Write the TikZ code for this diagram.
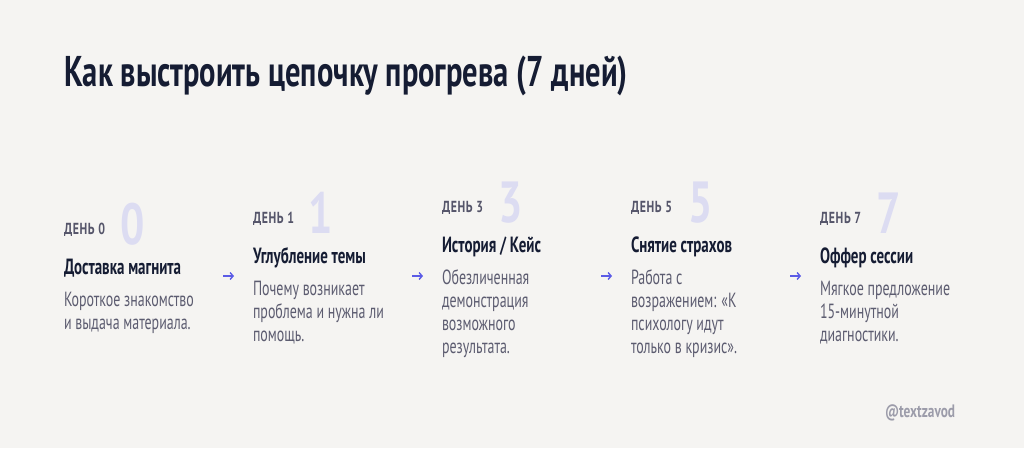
\documentclass[tikz,border=0pt]{standalone}
\usepackage{fontspec}
\setmainfont{PT Sans}
\newfontfamily\titlefont{PT Sans}[FakeStretch=0.71]
\newfontfamily\condfont{PT Sans}[FakeStretch=0.74]
\newfontfamily\headfont{PT Sans}[FakeStretch=0.68]
\newfontfamily\lblfont{PT Sans}[FakeStretch=0.74, LetterSpace=4]
\usetikzlibrary{arrows.meta}
\definecolor{bg}{HTML}{F5F4F2}
\definecolor{ink}{HTML}{151C33}
\definecolor{bodyc}{HTML}{5C5C70}
\definecolor{lblc}{HTML}{55556A}
\definecolor{digc}{HTML}{DCDCF2}
\definecolor{markc}{HTML}{9C9CAA}
\definecolor{arrc}{HTML}{5B5BE6}
\tikzset{
  every node/.style={inner sep=0pt, outer sep=0pt, anchor=base west},
  titletxt/.style={font=\titlefont\bfseries\fontsize{43}{45}\selectfont, text=ink},
  daylbl/.style={font=\lblfont\bfseries\fontsize{16}{18}\selectfont, text=lblc},
  bigdig/.style={font=\condfont\bfseries\fontsize{58}{60}\selectfont, text=digc},
  headtxt/.style={font=\headfont\bfseries\fontsize{22}{24}\selectfont, text=ink},
  bodytxt/.style={font=\headfont\fontsize{20.5}{23}\selectfont, text=bodyc, align=left},
  marktxt/.style={font=\condfont\bfseries\fontsize{18}{20}\selectfont, text=markc},
  flow/.style={draw=arrc, line width=1.4pt, -{Straight Barb[length=3pt,width=7pt,line width=1.4pt]}},
}
\begin{document}
\begin{tikzpicture}[x=1pt,y=-1pt]
\fill[bg] (0,0) rectangle (1024,448);
\useasboundingbox (0,0) rectangle (1024,448);

\node[titletxt] (title) at (64,86) {Как выстроить цепочку прогрева (7 дней)};

% column 0 (body anchored at the baseline of its last line)
\node[bigdig] (d0) at (120,244) {0};
\node[daylbl] (l0) at (64,234) {ДЕНЬ 0};
\node[headtxt] (h0) at (64,274) {Доставка магнита};
\node[bodytxt] (b0) at (64,329) {Короткое знакомство\\и выдача материала.};

% column 1
\node[bigdig] (d1) at (308,233) {1};
\node[daylbl] (l1) at (253,223) {ДЕНЬ 1};
\node[headtxt] (h1) at (253,263) {Углубление темы};
\node[bodytxt] (b1) at (253,341) {Почему возникает\\проблема и нужна ли\\помощь.};

% column 2
\node[bigdig] (d2) at (498,222) {3};
\node[daylbl] (l2) at (442,212) {ДЕНЬ 3};
\node[headtxt] (h2) at (442,252) {История / Кейс};
\node[bodytxt] (b2) at (442,353) {Обезличенная\\демонстрация\\возможного\\результата.};

% column 3
\node[bigdig] (d3) at (688,222) {5};
\node[daylbl] (l3) at (631,212) {ДЕНЬ 5};
\node[headtxt] (h3) at (631,252) {Снятие страхов};
\node[bodytxt] (b3) at (631,353) {Работа с\\возражением: «К\\психологу идут\\только в кризис».};

% column 4
\node[bigdig] (d4) at (876,233) {7};
\node[daylbl] (l4) at (820,223) {ДЕНЬ 7};
\node[headtxt] (h4) at (820,263) {Оффер сессии};
\node[bodytxt] (b4) at (820,341) {Мягкое предложение\\15-минутной\\диагностики.};

% arrows
\coordinate (a0s) at (223,276); \coordinate (a0e) at (234,276);
\coordinate (a1s) at (412,276); \coordinate (a1e) at (423,276);
\coordinate (a2s) at (601,276); \coordinate (a2e) at (612,276);
\coordinate (a3s) at (790,276); \coordinate (a3e) at (801,276);
\draw[flow] (a0s) -- (a0e);
\draw[flow] (a1s) -- (a1e);
\draw[flow] (a2s) -- (a2e);
\draw[flow] (a3s) -- (a3e);

\node[marktxt] (mark) at (885,417) {@textzavod};
\end{tikzpicture}
\end{document}
